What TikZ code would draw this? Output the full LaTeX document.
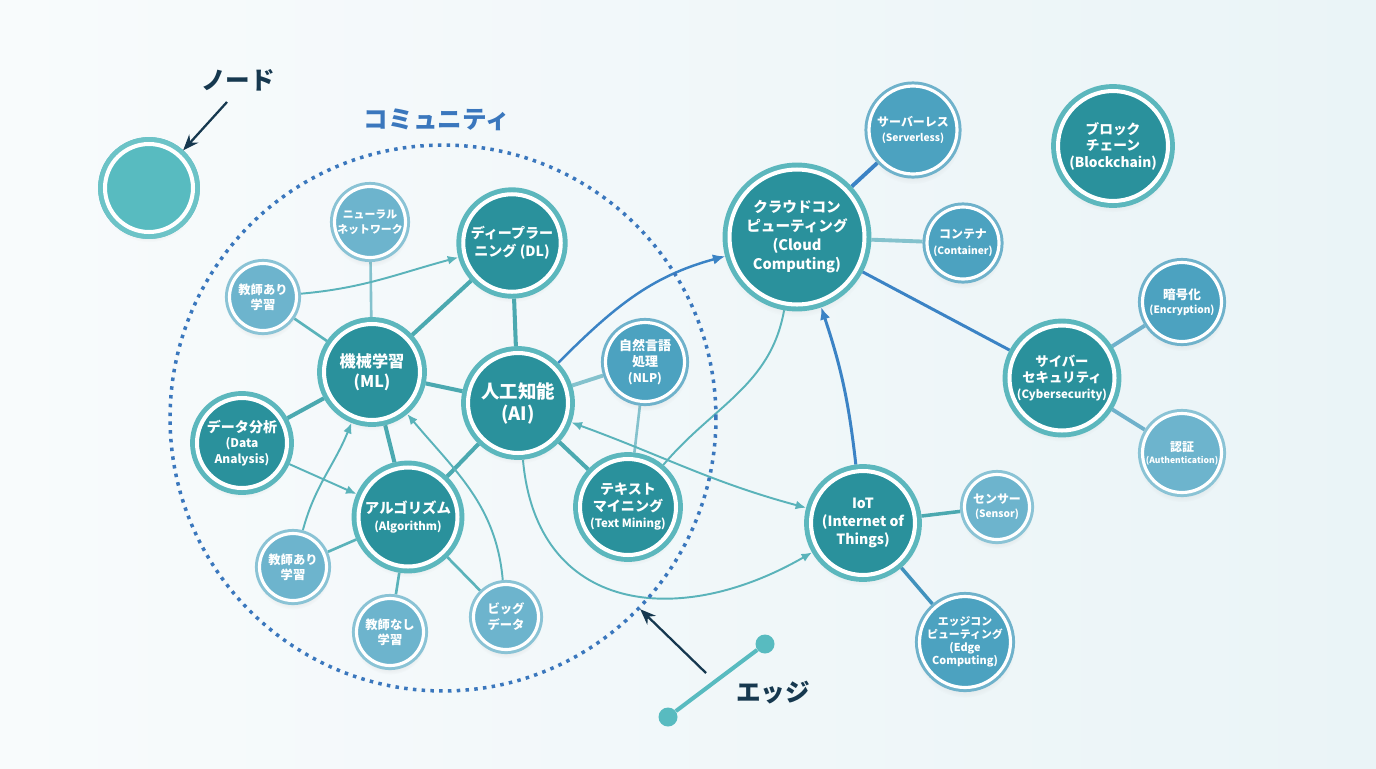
\documentclass[tikz,border=0pt]{standalone}
\usepackage{fontspec}
\setmainfont{Noto Sans CJK JP}
\usetikzlibrary{arrows.meta,shadows}

\definecolor{bgleft}{HTML}{F8FBFC}
\definecolor{bgright}{HTML}{EAF4F7}
\definecolor{navy}{HTML}{16384F}
\definecolor{commblue}{HTML}{3A77BD}
\definecolor{hubfill}{HTML}{2A919C}
\definecolor{hubring}{HTML}{5CB7BD}
\definecolor{leaffill}{HTML}{4CA2C0}
\definecolor{leafring}{HTML}{6FB2CB}
\definecolor{palefill}{HTML}{6DB4CD}
\definecolor{palering}{HTML}{8AC3D5}
\definecolor{dotfill}{HTML}{58BBC0}
\definecolor{dotring}{HTML}{6CC3C7}
\definecolor{edgeteal}{HTML}{4BA9B0}
\definecolor{edgepale}{HTML}{84C2CD}
\definecolor{flowteal}{HTML}{5AB3BA}
\definecolor{linkblue}{HTML}{3B83C5}
\definecolor{linkpale}{HTML}{6FB1CB}

\newcommand{\setfs}[2]{\fontsize{#1}{#2}\selectfont}

\pgfdeclarelayer{bg}
\pgfdeclarelayer{edges}
\pgfsetlayers{bg,edges,main}

\tikzset{
  hub/.style={circle, inner sep=0pt, outer sep=3.9pt, minimum size=#1,
    fill=hubfill, draw=white, line width=2.3pt, text=white, align=center,
    circular drop shadow={shadow xshift=0pt, shadow yshift=-3pt, opacity=0.12},
    preaction={draw=hubring, line width=7.9pt}},
  leaf/.style={circle, inner sep=0pt, outer sep=2.6pt, minimum size=#1,
    fill=leaffill, draw=white, line width=1.8pt, text=white, align=center,
    circular drop shadow={shadow xshift=0pt, shadow yshift=-3pt, opacity=0.1},
    preaction={draw=leafring, line width=5.2pt}},
  pale/.style={circle, inner sep=0pt, outer sep=2.6pt, minimum size=#1,
    fill=palefill, draw=white, line width=1.8pt, text=white, align=center,
    circular drop shadow={shadow xshift=0pt, shadow yshift=-3pt, opacity=0.1},
    preaction={draw=palering, line width=5.2pt}},
  fs/.style 2 args={font=\bfseries\setfs{#1}{#2}},
  strong/.style={draw=edgeteal, line width=2.3pt},
  weak/.style={draw=edgepale, line width=1.5pt},
  flow/.style={draw=flowteal, line width=1.1pt, -{Latex[length=6pt,width=5pt]}},
  bluelink/.style={draw=linkblue, line width=1.7pt},
  pointer/.style={draw=navy, line width=1.3pt, -{Stealth[length=9pt,width=7pt]}},
  caption/.style={text=navy, font=\bfseries\setfs{14}{16}}
}

\begin{document}
\begin{tikzpicture}[x=0.02cm, y=0.02cm]
  \useasboundingbox (0,0) rectangle (1376,-768);
  \begin{pgfonlayer}{bg}
    \fill[left color=bgleft, right color=bgright] (0,0) rectangle (1376,-768);
  \end{pgfonlayer}

  % legend
  \node[caption] (nodelbl) at (238,-80) {ノード};
  \node[hub=1.76cm, fill=dotfill, preaction={draw=dotring, line width=7.9pt}] (sample) at (149,-188) {};
  \coordinate (nodetail) at (227,-102);
  \draw[pointer] (nodetail) -- (sample);

  \node[text=commblue, font=\bfseries\setfs{14}{16}] (commlbl) at (437,-120) {コミュニティ};
  \node[circle, draw=commblue, line width=2pt, dash pattern=on 2pt off 3pt,
        minimum size=10.92cm, inner sep=0pt] (comm) at (443,-418) {};

  \node[circle, fill=dotfill, minimum size=0.38cm, inner sep=0pt] (edgeA) at (668,-717) {};
  \node[circle, fill=dotfill, minimum size=0.38cm, inner sep=0pt] (edgeB) at (765,-644) {};
  \draw[draw=dotfill, line width=2.3pt] (edgeA) -- (edgeB);
  \node[caption] (edgelbl) at (773,-693) {エッジ};
  \coordinate (edgetail) at (706,-673);
  \draw[pointer] (edgetail) -- (comm);

  % AI community
  \node[pale=1.42cm, fs={6.2}{8.5}] (nn) at (370,-222) {ニューラル\\ネットワーク};
  \node[hub=1.95cm, fs={8}{10.2}] (dl) at (512,-243) {ディープラー\\ニング (DL)};
  \node[pale=1.34cm, fs={7}{8.5}] (sup1) at (263,-297) {教師あり\\学習};
  \node[hub=1.92cm, fs={9.2}{11.5}] (ml) at (372,-372) {機械学習\\(ML)};
  \node[hub=2.0cm, fs={10.5}{12.5}] (ai) at (518,-403) {人工知能\\(AI)};
  \node[leaf=1.58cm, fs={7.4}{9}] (nlp) at (645,-362) {自然言語\\処理\\\setfs{6.8}{9}(NLP)};
  \node[hub=1.8cm, fs={8}{8.8}] (data) at (242,-443) {データ分析\\\setfs{6.8}{8.5}(Data\\\setfs{6.8}{8.5}Analysis)};
  \node[hub=1.98cm, fs={8.2}{9.5}] (algo) at (408,-517) {アルゴリズム\\\setfs{6.5}{9.5}(Algorithm)};
  \node[hub=1.92cm, fs={8}{9.4}] (tm) at (628,-507) {テキスト\\マイニング\\\setfs{6.5}{9.4}(Text Mining)};
  \node[pale=1.34cm, fs={7}{8.5}] (sup2) at (293,-567) {教師あり\\学習};
  \node[pale=1.34cm, fs={7}{8.5}] (unsup) at (390,-632) {教師なし\\学習};
  \node[pale=1.3cm, fs={7}{9}] (big) at (506,-617) {ビッグ\\データ};

  % right side
  \node[hub=2.7cm, fs={8.3}{10.8}] (cloud) at (797,-237) {クラウドコン\\ピューティング\\(Cloud\\Computing)};
  \node[leaf=1.76cm, fs={6.8}{8.5}] (sls) at (913,-130) {サーバーレス\\\setfs{5.8}{8}(Serverless)};
  \node[leaf=1.44cm, fs={6.8}{9}] (cont) at (963,-243) {コンテナ\\\setfs{5.8}{8}(Container)};
  \node[hub=2.2cm, fs={7.8}{9.4}] (chain) at (1113,-146) {ブロック\\チェーン\\(Blockchain)};
  \node[leaf=1.58cm, fs={7.2}{7.8}] (enc) at (1182,-302) {暗号化\\\setfs{5.8}{7.8}(Encryption)};
  \node[hub=2.1cm, fs={7.6}{9}] (cyber) at (1062,-378) {サイバー\\セキュリティ\\\setfs{6.5}{9}(Cybersecurity)};
  \node[pale=1.58cm, fs={6.8}{6.8}] (auth) at (1182,-453) {認証\\\setfs{4.9}{6.6}(Authentication)};
  \node[hub=2.08cm, fs={8}{10.4}] (iot) at (863,-523) {IoT\\(Internet of\\Things)};
  \node[pale=1.3cm, fs={6.8}{8}] (sensor) at (997,-507) {センサー\\\setfs{5.8}{8}(Sensor)};
  \node[leaf=1.82cm, fs={6.2}{7.4}] (edge) at (965,-642) {エッジコン\\ピューティング\\(Edge\\Computing)};

  \begin{pgfonlayer}{edges}
    \draw[strong] (ml) -- (dl);
    \draw[strong] (ml) -- (ai);
    \draw[strong] (ml) -- (data);
    \draw[strong] (ml) -- (algo);
    \draw[strong] (ai) -- (dl);
    \draw[strong] (ai) -- (algo);
    \draw[strong] (ai) -- (tm);
    \draw[weak, line width=2.2pt] (ai) -- (nlp);
    \draw[weak] (nlp) -- (tm);
    \draw[weak] (ml) -- (nn);
    \draw[weak, draw=flowteal] (ml) -- (sup1);
    \draw[weak, draw=flowteal] (sup2) -- (algo);
    \draw[weak, draw=flowteal] (unsup) -- (algo);
    \draw[weak, draw=flowteal] (big) -- (algo);
    \draw[flow] (sup1) to[out=5, in=195] (dl);
    \draw[flow] (data) -- (algo);
    \draw[flow] (sup2) to[out=75, in=-112] (ml);
    \draw[flow] (big) to[out=95, in=-50] (ml);
    \draw[flow, {Latex[length=6pt,width=5pt]}-{Latex[length=6pt,width=5pt]}] (ai) to[out=-20, in=165] (iot);
    \draw[flow] (ai) to[out=-85, in=210, looseness=1.3] (iot);
    \draw[flow, -] (tm) to[out=50, in=-100] (cloud);
    \draw[bluelink, line width=1.4pt, -{Latex[length=7pt,width=6pt]}] (ai) to[out=45, in=195] (cloud);
    \draw[bluelink, -{Latex[length=7pt,width=6pt]}] (iot) to[bend right=6] (cloud);
    \draw[bluelink, line width=2.2pt] (cloud) -- (sls);
    \draw[weak, line width=2.2pt] (cloud) -- (cont);
    \draw[bluelink] (cloud) -- (cyber);
    \draw[draw=linkpale, line width=2.2pt] (cyber) -- (enc);
    \draw[draw=linkpale, line width=2.2pt] (cyber) -- (auth);
    \draw[draw=edgeteal, line width=2pt] (iot) -- (sensor);
    \draw[draw=linkblue!60!edgeteal, line width=2pt] (iot) -- (edge);
  \end{pgfonlayer}
\end{tikzpicture}
\end{document}
